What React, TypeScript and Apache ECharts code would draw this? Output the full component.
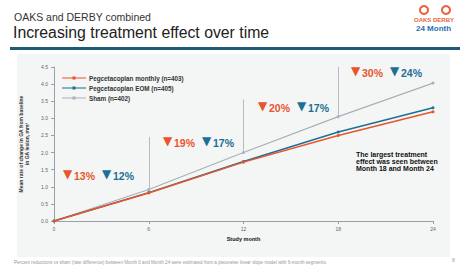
import React, { useEffect, useRef } from "react";
import * as echarts from "echarts";

const months = [0, 6, 12, 18, 24];
const monthly = [0, 0.82, 1.72, 2.5, 3.19];
const eom = [0, 0.83, 1.74, 2.6, 3.31];
const sham = [0, 0.92, 2.0, 3.05, 4.03];
const seriesNames = ["Pegcetacoplan monthly (n=403)", "Pegcetacoplan EOM (n=405)", "Sham (n=402)"];
const redLabels = ["13%", "19%", "20%", "30%"];
const blueLabels = ["12%", "17%", "17%", "24%"];
// vertical separators: [month, top value, bottom value]
const separators = [
  [6, 2.45, 0.95],
  [12, 3.55, 2.02],
  [18, 4.5, 3.07],
];

const RED = "#e8542b";
const BLUE = "#1c6f95";
const GRAY = "#a9b0ba";
const FONT = "'Liberation Sans', Arial, sans-serif";

export default function App() {
  const ref = useRef<HTMLDivElement>(null);
  useEffect(() => {
    const chart = echarts.init(ref.current!, null, { renderer: "svg" });
    const labelPos = [
      [63, 169],
      [163, 136],
      [258, 101],
      [351, 66],
    ];
    const bluePos = [
      [102, 169],
      [202, 136],
      [297, 101],
      [390, 66],
    ];
    const ann: any[] = [];
    const addLabel = (t: string, pos: number[], color: string) => {
      ann.push({
        type: "text",
        left: pos[0],
        top: pos[1] - 1,
        style: { text: "▼", fill: color, font: "bold 12px 'DejaVu Sans', sans-serif" },
      });
      ann.push({
        type: "text",
        left: pos[0] + 11,
        top: pos[1] + 1,
        style: { text: t, fill: color, font: "bold 10.5px " + FONT },
      });
    };
    redLabels.forEach((t, i) => addLabel(t, labelPos[i], RED));
    blueLabels.forEach((t, i) => addLabel(t, bluePos[i], BLUE));
    const mk = (name: string, data: number[], color: string, width: number, z: number) => ({
      name,
      type: "line",
      data: months.map((m, i) => [m, data[i]]),
      symbol: "circle",
      symbolSize: 3,
      z,
      lineStyle: { color, width },
      itemStyle: { color },
    });
    const shamSeries: any = mk(seriesNames[2], sham, GRAY, 1.2, 2);
    shamSeries.markLine = {
      silent: true,
      symbol: "none",
      lineStyle: { color: "#b8bcc2", width: 1, type: "solid" },
      label: { show: false },
      data: separators.map((s) => [
        { coord: [s[0], s[1]] },
        { coord: [s[0], s[2]] },
      ]),
    };
    chart.setOption({
      animation: false,
      backgroundColor: "#ffffff",
      textStyle: { fontFamily: FONT },
      graphic: [
        { type: "rect", shape: { x: 17, y: 54, width: 433, height: 203 }, style: { fill: "#f4f5f5" }, z: -10 },
        { type: "text", left: 14, top: 11, style: { text: "OAKS and DERBY combined", fill: "#333", font: "10.5px " + FONT } },
        { type: "text", left: 13, top: 24, style: { text: "Increasing treatment effect over time", fill: "#222", font: "15.8px " + FONT } },
        { type: "rect", shape: { x: 10, y: 47, width: 450, height: 3 }, style: { fill: "#1f5a78" } },
        { type: "ring", shape: { cx: 424, cy: 10, r: 5, r0: 3 }, style: { fill: "#e8643c" } },
        { type: "ring", shape: { cx: 446, cy: 10, r: 5, r0: 3 }, style: { fill: "#e8643c" } },
        { type: "text", left: 414, top: 17, style: { text: "OAKS DERBY", fill: "#e8643c", font: "bold 6px " + FONT } },
        { type: "text", left: 416, top: 24, style: { text: "24 Month", fill: "#2a6fb5", font: "bold 8px " + FONT } },
        {
          type: "text",
          left: 356,
          top: 151,
          style: {
            text: "The largest treatment\neffect was seen between\nMonth 18 and Month 24",
            fill: "#111",
            font: "bold 7px " + FONT,
            lineHeight: 7,
          },
        },
        {
          type: "text",
          left: 14,
          top: 260,
          style: {
            text: "Percent reductions vs sham (rate difference) between Month 0 and Month 24 were estimated from a piecewise linear slope model with 6-month segments.",
            fill: "#999",
            font: "4.6px " + FONT,
          },
        },
        { type: "text", left: 452, top: 257, style: { text: "8", fill: "#999", font: "5px " + FONT } },
        ...ann,
      ],
      legend: {
        left: 57,
        top: 70,
        orient: "vertical",
        itemWidth: 24,
        itemHeight: 4,
        itemGap: 4,
        icon: "path://M0,1.4L24,1.4L24,2.6L0,2.6Z M10.5,0.5L13.5,0.5L13.5,3.5L10.5,3.5Z",
        textStyle: { fontSize: 6.3, fontWeight: "bold", color: "#333", padding: [0, 0, 0, -2] },
        data: seriesNames,
      },
      grid: { left: 54, right: 27, top: 67, bottom: 45 },
      xAxis: {
        type: "value",
        min: 0,
        max: 24,
        interval: 6,
        name: "Study month",
        nameLocation: "middle",
        nameGap: 15,
        nameTextStyle: { fontSize: 5.5, fontWeight: "bold", color: "#111" },
        axisLine: { lineStyle: { color: "#9aa0a6" } },
        axisTick: { length: 3, lineStyle: { color: "#9aa0a6" } },
        axisLabel: { fontSize: 5, color: "#666", margin: 5 },
        splitLine: { show: false },
      },
      yAxis: {
        type: "value",
        min: 0,
        max: 4.5,
        interval: 0.5,
        name: "Mean rate of change in GA from baseline\nin GA lesion, mm²",
        nameLocation: "middle",
        nameGap: 17,
        nameTextStyle: { fontSize: 5, fontWeight: "bold", color: "#333", lineHeight: 6 },
        axisLine: { show: true, lineStyle: { color: "#9aa0a6" } },
        axisTick: { show: true, length: 3, lineStyle: { color: "#9aa0a6" } },
        axisLabel: { fontSize: 5, color: "#666", margin: 6, formatter: (v: number) => v.toFixed(1) },
        splitLine: { show: false },
      },
      series: [mk(seriesNames[0], monthly, RED, 1.5, 4), mk(seriesNames[1], eom, BLUE, 1.5, 3), shamSeries],
    });
    return () => chart.dispose();
  }, []);
  return (
    <div
      ref={ref}
      style={{ position: "fixed", left: 0, top: 0, width: 460, height: 266, background: "#fff" }}
    />
  );
}
